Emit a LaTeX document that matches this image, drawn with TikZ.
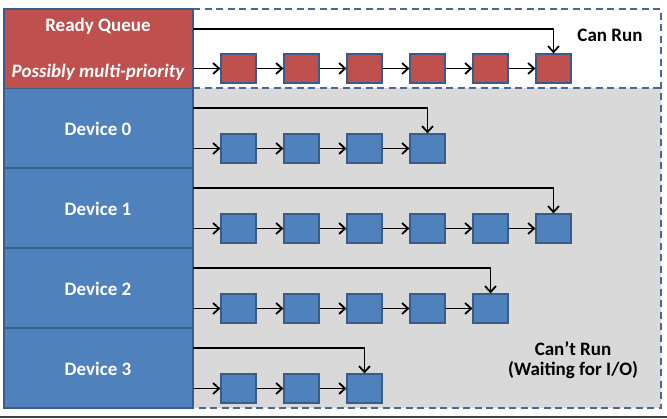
\documentclass[tikz,border=0pt]{standalone}
\usepackage{fontspec}
\setmainfont{Carlito}
\usetikzlibrary{arrows.meta}
\definecolor{qred}{HTML}{C0504D}
\definecolor{qblue}{HTML}{4F81BD}
\definecolor{qedge}{HTML}{385D8A}
\definecolor{qgray}{HTML}{D9D9D9}
\definecolor{qdash}{HTML}{4A6891}
\tikzset{
  colbox/.style={draw=qedge, line width=1.5pt, minimum width=189pt, minimum height=79.5pt, inner sep=0pt},
  qbox/.style={draw=qedge, line width=1.2pt, minimum width=35pt, minimum height=29pt, inner sep=0pt},
  lbl/.style={text=white, font=\fontsize{19}{22}\selectfont\bfseries, inner sep=0pt},
  blbl/.style={text=black, font=\fontsize{19}{22}\selectfont\bfseries, inner sep=0pt, align=center},
  arr/.style={line width=1.8pt, -{Straight Barb[length=6pt,width=11pt,line width=1.8pt]}},
  dline/.style={draw=qdash, line width=1.5pt, dash pattern=on 7pt off 4.5pt},
}
\begin{document}
\begin{tikzpicture}[x=1pt,y=-1pt]
\useasboundingbox (0,0) rectangle (667,418);
% background regions
\fill[qgray] (193,88) rectangle (661,408);
\draw[dline] (193,9) -- (661,9) -- (661,408) -- (193,408);
\draw[dline] (193,88) -- (661,88);
% left column
\node[colbox, fill=qred] (rq) at (98.5,48.5) {};
\node[colbox, fill=qblue] (d0) at (98.5,128) {};
\node[colbox, fill=qblue] (d1) at (98.5,208) {};
\node[colbox, fill=qblue] (d2) at (98.5,288) {};
\node[colbox, fill=qblue] (d3) at (98.5,368) {};
\node[lbl] (rqt) at (98,26) {Ready Queue};
\node[lbl] (rqp) at (98,72) {\itshape Possibly multi-priority};
\node[lbl] (d0t) at (98,129) {Device 0};
\node[lbl] (d1t) at (98,209) {Device 1};
\node[lbl] (d2t) at (98,289) {Device 2};
\node[lbl] (d3t) at (98,369) {Device 3};
\node[blbl] (canrun) at (610,35) {Can Run};
\node[blbl] (cantrun) at (573,360) {Can’t Run\\[-2pt](Waiting for I/O)};
% queues: name/count/ycenter/colour/top line y
\foreach \r/\n/\y/\c/\t in {rq/6/68.5/qred/29, d0/4/148.5/qblue/108, d1/6/228.5/qblue/188, d2/5/308.5/qblue/268, d3/3/388.5/qblue/348}{
  \foreach \i in {1,...,\n}{
    \node[qbox, fill=\c] (\r q\i) at ({238.5+63*(\i-1)},\y) {};
  }
  \draw[arr] (\r.east |- \r q1.west) -- (\r q1.west);
  \pgfmathtruncatemacro{\m}{\n-1}
  \foreach \i in {1,...,\m}{
    \pgfmathtruncatemacro{\j}{\i+1}
    \draw[arr] (\r q\i.east) -- (\r q\j.west);
  }
  \coordinate (\r top) at (193,\t);
  \draw[arr] (\r top) -| (\r q\n.north);
}
% bottom edge line
\fill[black!75] (0,416.3) rectangle (667,418);
\end{tikzpicture}
\end{document}
